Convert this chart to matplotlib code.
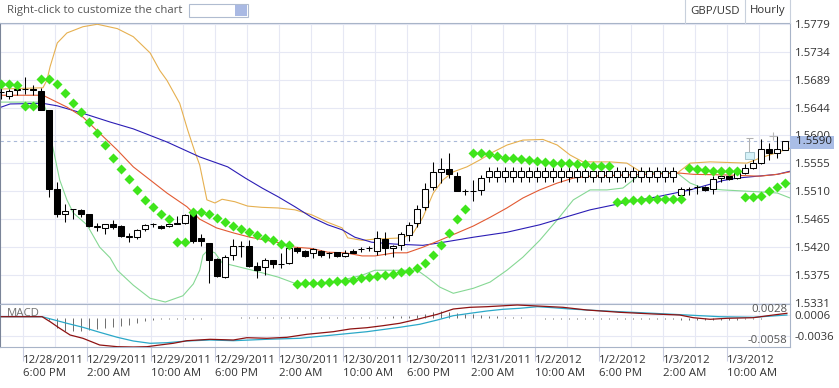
import numpy as np
import matplotlib.pyplot as plt
import matplotlib.transforms as mtransforms
from matplotlib.lines import Line2D
from matplotlib.patches import Rectangle

plt.rcParams['font.family'] = ['Open Sans', 'DejaVu Sans']

# hourly GBP/USD candles
opens = [1.5669, 1.5663, 1.5673, 1.5674, 1.5674, 1.5671, 1.5640, 1.5513, 1.5473, 1.5481,
         1.5480, 1.5473, 1.5453, 1.5451, 1.5458, 1.5454, 1.5437, 1.5436, 1.5449, 1.5457,
         1.5454, 1.5454, 1.5458, 1.5459, 1.5473, 1.5434, 1.5426, 1.5401, 1.5372, 1.5408,
         1.5422, 1.5422, 1.5390, 1.5388, 1.5399, 1.5393, 1.5394, 1.5419, 1.5414, 1.5410,
         1.5414, 1.5410, 1.5412, 1.5406, 1.5414, 1.5417, 1.5418, 1.5414, 1.5433, 1.5418,
         1.5423, 1.5440, 1.5459, 1.5484, 1.5516, 1.5540, 1.5545, 1.5534, 1.5510, 1.5510,
         1.5512, 1.5532, 1.5532, 1.5532, 1.5532, 1.5532, 1.5532, 1.5532, 1.5532, 1.5532,
         1.5532, 1.5532, 1.5532, 1.5532, 1.5532, 1.5532, 1.5532, 1.5532, 1.5532, 1.5532,
         1.5532, 1.5532, 1.5532, 1.5532, 1.5532, 1.5504, 1.5513, 1.5517, 1.5517, 1.5513,
         1.5531, 1.5534, 1.5531, 1.5539, 1.5547, 1.5556, 1.5577, 1.5572, 1.5576]
highs = [1.5676, 1.5674, 1.5679, 1.5693, 1.5680, 1.5676, 1.5641, 1.5525, 1.5490, 1.5482,
         1.5481, 1.5474, 1.5459, 1.5458, 1.5464, 1.5456, 1.5443, 1.5450, 1.5457, 1.5459,
         1.5456, 1.5464, 1.5470, 1.5474, 1.5474, 1.5442, 1.5427, 1.5402, 1.5407, 1.5433,
         1.5430, 1.5431, 1.5397, 1.5402, 1.5400, 1.5410, 1.5421, 1.5421, 1.5415, 1.5418,
         1.5415, 1.5413, 1.5413, 1.5415, 1.5417, 1.5420, 1.5422, 1.5446, 1.5444, 1.5423,
         1.5445, 1.5461, 1.5488, 1.5523, 1.5557, 1.5563, 1.5572, 1.5540, 1.5514, 1.5528,
         1.5536, 1.5548, 1.5548, 1.5548, 1.5548, 1.5548, 1.5548, 1.5548, 1.5548, 1.5548,
         1.5548, 1.5548, 1.5548, 1.5548, 1.5548, 1.5548, 1.5548, 1.5548, 1.5548, 1.5548,
         1.5548, 1.5548, 1.5548, 1.5548, 1.5548, 1.5517, 1.5517, 1.5520, 1.5518, 1.5534,
         1.5539, 1.5536, 1.5541, 1.5554, 1.5561, 1.5593, 1.5588, 1.5599, 1.5591]
lows = [1.5658, 1.5658, 1.5664, 1.5666, 1.5665, 1.5640, 1.5501, 1.5469, 1.5460, 1.5465,
        1.5469, 1.5452, 1.5446, 1.5442, 1.5450, 1.5437, 1.5429, 1.5433, 1.5446, 1.5453,
        1.5450, 1.5452, 1.5457, 1.5458, 1.5426, 1.5422, 1.5362, 1.5372, 1.5370, 1.5399,
        1.5405, 1.5389, 1.5370, 1.5375, 1.5386, 1.5387, 1.5393, 1.5411, 1.5405, 1.5402,
        1.5405, 1.5402, 1.5404, 1.5404, 1.5410, 1.5413, 1.5414, 1.5408, 1.5408, 1.5405,
        1.5415, 1.5430, 1.5453, 1.5480, 1.5512, 1.5523, 1.5531, 1.5510, 1.5504, 1.5494,
        1.5504, 1.5525, 1.5525, 1.5525, 1.5525, 1.5525, 1.5525, 1.5525, 1.5525, 1.5525,
        1.5525, 1.5525, 1.5525, 1.5525, 1.5525, 1.5525, 1.5525, 1.5525, 1.5525, 1.5525,
        1.5525, 1.5525, 1.5525, 1.5525, 1.5525, 1.5502, 1.5504, 1.5506, 1.5511, 1.5506,
        1.5525, 1.5528, 1.5529, 1.5537, 1.5545, 1.5554, 1.5560, 1.5563, 1.5576]
closes = [1.5670, 1.5671, 1.5673, 1.5674, 1.5673, 1.5641, 1.5513, 1.5474, 1.5478, 1.5481,
          1.5474, 1.5454, 1.5453, 1.5457, 1.5452, 1.5438, 1.5437, 1.5448, 1.5455, 1.5457,
          1.5451, 1.5458, 1.5458, 1.5472, 1.5430, 1.5430, 1.5400, 1.5373, 1.5405, 1.5422,
          1.5422, 1.5390, 1.5384, 1.5400, 1.5393, 1.5393, 1.5418, 1.5414, 1.5406, 1.5417,
          1.5408, 1.5410, 1.5406, 1.5410, 1.5411, 1.5417, 1.5418, 1.5434, 1.5419, 1.5422,
          1.5441, 1.5456, 1.5482, 1.5514, 1.5540, 1.5545, 1.5537, 1.5511, 1.5510, 1.5510,
          1.5531, 1.5542, 1.5542, 1.5542, 1.5542, 1.5542, 1.5542, 1.5542, 1.5542, 1.5542,
          1.5542, 1.5542, 1.5542, 1.5542, 1.5542, 1.5542, 1.5542, 1.5542, 1.5542, 1.5542,
          1.5542, 1.5542, 1.5542, 1.5542, 1.5542, 1.5513, 1.5513, 1.5517, 1.5512, 1.5529,
          1.5535, 1.5530, 1.5539, 1.5547, 1.5556, 1.5577, 1.5572, 1.5577, 1.5590]

# parabolic SAR, one per bar
sar = [1.5682, 1.5682, 1.5680, 1.5647, 1.5647, 1.5690, 1.5690, 1.5682, 1.5668, 1.5651,
       1.5637, 1.5621, 1.5604, 1.5584, 1.5564, 1.5546, 1.5529, 1.5512, 1.5496, 1.5485,
       1.5473, 1.5465, 1.5428, 1.5428, 1.5476, 1.5476, 1.5474, 1.5467, 1.5461, 1.5454,
       1.5449, 1.5444, 1.5440, 1.5435, 1.5431, 1.5425, 1.5423, 1.5361, 1.5362, 1.5362,
       1.5363, 1.5364, 1.5366, 1.5366, 1.5368, 1.5370, 1.5372, 1.5373, 1.5375, 1.5377,
       1.5380, 1.5382, 1.5386, 1.5394, 1.5407, 1.5423, 1.5443, 1.5465, 1.5481, 1.5572,
       1.5571, 1.5569, 1.5566, 1.5564, 1.5563, 1.5562, 1.5560, 1.5559, 1.5557, 1.5556,
       1.5556, 1.5555, 1.5553, 1.5553, 1.5551, 1.5551, 1.5551, 1.5493, 1.5494, 1.5495,
       1.5496, 1.5497, 1.5497, 1.5498, 1.5498, 1.5498, 1.5547, 1.5545, 1.5544, 1.5543,
       1.5543, 1.5543, 1.5543, 1.5500, 1.5501, 1.5502, 1.5511, 1.5516, 1.5523]

# bollinger upper band (bar, price)
upper_x = [0, 5.2, 5.7, 6.1, 7.0, 8.2, 10.2, 12.0, 14.5, 16.5, 18.6, 19.8, 20.7, 22.3, 23.3,
           24.2, 24.8, 25.7, 26.7, 27.6, 29.2, 30.8, 32.6, 34.6, 36.7, 38.8, 40.8, 42.6, 43.3,
           45.1, 46.7, 50.2, 51.5, 52.7, 54.0, 55.2, 56.5, 58.2, 59.8, 61.5, 63.2, 65.2, 67.7,
           69.5, 71.1, 72.7, 76.1, 78.2, 79.8, 82.0, 84.5, 86.1, 88.6, 93.2, 94.8, 96.5, 98.6]
upper = [1.5674, 1.5676, 1.5688, 1.5710, 1.5748, 1.5764, 1.5774, 1.5778, 1.5771, 1.5758,
         1.5732, 1.5704, 1.5688, 1.5651, 1.5608, 1.5573, 1.5552, 1.5496, 1.5491, 1.5497,
         1.5493, 1.5486, 1.5484, 1.5483, 1.5480, 1.5472, 1.5460, 1.5451, 1.5435, 1.5431,
         1.5433, 1.5435, 1.5443, 1.5468, 1.5507, 1.5528, 1.5541, 1.5549, 1.5560, 1.5573,
         1.5584, 1.5592, 1.5593, 1.5584, 1.5568, 1.5557, 1.5557, 1.5555, 1.5542, 1.5539,
         1.5539, 1.5555, 1.5557, 1.5555, 1.5563, 1.5570, 1.5579]
# middle band
mid_x = [0, 5.2, 8.2, 10.2, 12.3, 14.5, 16.5, 18.6, 20.7, 23.2, 24.8, 26.9, 29.0, 31.1, 33.2,
         34.8, 36.7, 38.8, 40.8, 43.0, 45.1, 46.7, 49.2, 50.7, 52.7, 54.8, 57.0, 59.0, 61.1,
         63.2, 65.2, 67.3, 69.5, 71.5, 73.6, 84.8, 86.5, 90.7, 94.8, 97.0, 98.6]
mid = [1.5664, 1.5664, 1.5645, 1.5629, 1.5603, 1.5576, 1.5549, 1.5528, 1.5507, 1.5485,
       1.5465, 1.5451, 1.5443, 1.5436, 1.5431, 1.5427, 1.5420, 1.5418, 1.5412, 1.5411,
       1.5406, 1.5406, 1.5411, 1.5411, 1.5420, 1.5431, 1.5443, 1.5454, 1.5468, 1.5483,
       1.5499, 1.5512, 1.5523, 1.5531, 1.5534, 1.5539, 1.5537, 1.5536, 1.5534, 1.5537, 1.5541]
# slow moving average
slow_x = [0, 1.1, 5.2, 7.0, 10.2, 13.6, 16.5, 20.7, 24.8, 28.3, 30.5, 32.6, 34.6, 36.7, 38.8,
          40.8, 42.6, 44.2, 46.3, 49.2, 52.7, 54.8, 59.0, 63.2, 67.3, 71.5, 73.6, 77.7, 82.0,
          86.1, 90.2, 92.0, 94.5, 97.0, 98.6]
slow = [1.5645, 1.5650, 1.5651, 1.5647, 1.5635, 1.5621, 1.5610, 1.5589, 1.5565, 1.5549,
        1.5531, 1.5515, 1.5501, 1.5485, 1.5468, 1.5456, 1.5448, 1.5436, 1.5428, 1.5425,
        1.5423, 1.5427, 1.5436, 1.5444, 1.5456, 1.5472, 1.5480, 1.5491, 1.5501, 1.5512,
        1.5527, 1.5531, 1.5534, 1.5537, 1.5542]
# bollinger lower band
lower_x = [0, 5.2, 6.1, 6.3, 7.3, 8.2, 9.0, 10.7, 12.3, 13.6, 14.5, 16.5, 18.6, 20.5, 22.7,
           24.0, 24.8, 25.2, 25.8, 26.7, 27.6, 29.2, 31.7, 34.6, 36.7, 40.1, 42.6, 45.1, 46.7,
           52.0, 53.2, 54.8, 56.5, 59.0, 61.1, 63.2, 65.2, 67.3, 69.5, 71.5, 73.6, 75.7, 77.7,
           79.0, 80.2, 84.5, 86.1, 87.7, 90.2, 94.5, 97.0, 98.6]
lower = [1.5653, 1.5653, 1.5624, 1.5589, 1.5528, 1.5496, 1.5475, 1.5456, 1.5420, 1.5403,
         1.5383, 1.5359, 1.5338, 1.5332, 1.5342, 1.5361, 1.5383, 1.5407, 1.5415, 1.5411,
         1.5395, 1.5390, 1.5382, 1.5372, 1.5362, 1.5361, 1.5367, 1.5375, 1.5383, 1.5383,
         1.5372, 1.5356, 1.5346, 1.5354, 1.5364, 1.5383, 1.5404, 1.5431, 1.5464, 1.5496,
         1.5512, 1.5512, 1.5515, 1.5528, 1.5541, 1.5539, 1.5523, 1.5515, 1.5512, 1.5509,
         1.5507, 1.5499]

# MACD panel
macd_x = [0, 5.1, 6.1, 7.3, 8.6, 10.2, 12.3, 14.5, 16.5, 18.2, 19.8, 21.5, 23.2, 26.1, 29.0,
          30.7, 33.2, 35.7, 38.2, 41.5, 43.6, 45.7, 47.7, 49.8, 52.3, 54.5, 56.5, 58.6, 60.7,
          64.5, 67.0, 70.2, 73.2, 77.3, 81.5, 84.8, 86.5, 88.6, 90.7, 94.0, 96.5, 98.2]
macd = [0.00026, 0.00026, -0.00074, -0.00206, -0.0034, -0.00406, -0.0054, -0.00574, -0.0058,
        -0.00574, -0.0054, -0.00506, -0.00454, -0.00426, -0.0044, -0.00394, -0.00406, -0.00386,
        -0.00326, -0.00274, -0.0022, -0.00194, -0.00154, -0.00106, -0.00014, 0.00074, 0.0018,
        0.00214, 0.00226, 0.0026, 0.0024, 0.00214, 0.0016, 0.00114, 0.0008, 0.0006, 0.00006,
        -0.00026, -0.00006, 0.00006, 0.0006, 0.00094]
signal_x = [0, 5.1, 8.2, 10.2, 12.3, 14.5, 16.5, 18.6, 20.7, 23.2, 26.1, 29.0, 33.2, 37.3,
            41.5, 45.7, 49.8, 52.3, 54.5, 56.5, 58.6, 60.7, 62.7, 64.8, 67.0, 69.0, 71.1,
            73.2, 77.3, 81.5, 85.7, 89.8, 94.0, 98.2]
signal = [0.00026, 0.00026, -0.00106, -0.00186, -0.00286, -0.00386, -0.0046, -0.00506,
          -0.00494, -0.0046, -0.0044, -0.00454, -0.00426, -0.00406, -0.0034, -0.00274,
          -0.00186, -0.00126, -0.0004, 0.00046, 0.00094, 0.0014, 0.00174, 0.00194, 0.00226,
          0.00206, 0.0018, 0.0016, 0.00126, 0.00094, 0.0006, 0.00026, 0.00014, 0.0006]
hist = [0, 0, 0, 0, 0, 0, -0.0004, -0.0020, -0.0026, -0.0026,
        -0.0025, -0.0024, -0.0022, -0.0020, -0.0018, -0.0016, -0.0013, -0.0010, -0.0006, -0.0003,
        -0.0002, -0.0002, -0.0001, -0.0001, -0.0001, -0.0001, 0, 0, 0, 0.0001,
        0.0002, 0.0002, 0.0002, 0.0002, 0.0002, 0.0003, 0.0003, 0.0003, 0.0003, 0.0003,
        0.0003, 0.0003, 0.0003, 0.0003, 0.0003, 0.0003, 0.0003, 0.0003, 0.0003, 0.0004,
        0.0004, 0.0005, 0.0006, 0.0008, 0.0012, 0.0014, 0.0013, 0.0011, 0.0009, 0.0008,
        0.0006, 0.0005, 0.0004, 0.0003, 0.0002, 0.0002, 0.0001, 0.0001, -0.0001, -0.0001,
        -0.0001, -0.0001, -0.0001, -0.0001, -0.0001, -0.0001, -0.0001, -0.0001, -0.0001, -0.0002,
        -0.0002, -0.0002, -0.0002, -0.0002, -0.0002, -0.0004, -0.0004, -0.0004, -0.0004, -0.0004,
        -0.0004, -0.0004, -0.0004, -0.0002, -0.0002, -0.0002, 0.0001, 0.0001, 0.0001]

# hover ghost candle and cursor mark
ghost_bar = [93.5]
ghost_body = [1.5561, 1.5573]
ghost_top = [1.5595]
cursor_bar = [96.4]
cursor_price = [1.5598]

price_ticks = [1.5331, 1.5375, 1.5420, 1.5465, 1.5510, 1.5555, 1.5600, 1.5644, 1.5689, 1.5734, 1.5779]
macd_ticks = [0.0006, -0.0036]
time_labels = ['12/28/2011\n6:00 PM', '12/29/2011\n2:00 AM', '12/29/2011\n10:00 AM',
               '12/29/2011\n6:00 PM', '12/30/2011\n2:00 AM', '12/30/2011\n10:00 AM',
               '12/30/2011\n6:00 PM', '12/31/2011\n2:00 AM', '1/2/2012\n10:00 AM',
               '1/2/2012\n6:00 PM', '1/3/2012\n2:00 AM', '1/3/2012\n10:00 AM']

W, H = 839, 388
FS = 8.2
fig = plt.figure(figsize=(W / 100, H / 100), dpi=100)


def box(l, t, r, b):
    return [l / W, 1 - b / H, (r - l) / W, (b - t) / H]


ax = fig.add_axes(box(0, 23, 790, 304))
axm = fig.add_axes(box(0, 304, 790, 347))

border = '#A8B4C8'
gridc = '#E6E8F4'
xlim = (-0.1625, 98.5875)
label_pos = np.arange(len(time_labels)) * 8 + 2.675

# ---- price panel
ax.set_xlim(xlim)
ax.set_ylim(1.53288, 1.57800)
ax.set_xticks(np.arange(2.675, 98.6, 4))
ax.tick_params(axis='x', length=0, labelbottom=False)
ax.set_yticks(price_ticks)
ax.set_yticklabels([f'{v:.4f}' for v in price_ticks])
ax.yaxis.tick_right()
ax.tick_params(axis='y', length=0, pad=3.5, labelsize=FS, labelcolor='#333333')
ax.grid(True, color=gridc, lw=0.8)
ax.set_axisbelow(True)
for s in ['top', 'right']:
    ax.spines[s].set_color(border)
ax.spines['left'].set_color('#7A8498')
ax.spines['bottom'].set_visible(False)

bars = np.arange(len(opens))
o = np.array(opens)
c = np.array(closes)

ax.plot(upper_x, upper, color='#E6B050', lw=0.8, zorder=2)
ax.plot(lower_x, lower, color='#86D894', lw=0.8, zorder=2)
ax.plot(slow_x, slow, color='#2B1DB5', lw=0.8, zorder=2)
ax.plot(mid_x, mid, color='#E25A32', lw=0.8, zorder=2)
ax.axhline(closes[-1], color='#A8B8D8', lw=0.8, ls=(0, (3, 3)), zorder=1)

ax.vlines(bars, lows, highs, color='black', lw=0.75, zorder=4)
ax.bar(bars, np.maximum(np.abs(c - o), 0.00003), bottom=np.minimum(o, c), width=0.75,
       color=np.where(c >= o, 'white', 'black'), edgecolor='black', linewidth=0.75, zorder=5)

# ghost candle
ax.vlines(ghost_bar, ghost_body[1], ghost_top, color='#B0B0B0', lw=0.75, zorder=4)
ax.hlines(ghost_top, np.array(ghost_bar) - 0.4, np.array(ghost_bar) + 0.4, color='#B0B0B0', lw=0.75, zorder=4)
ax.bar(ghost_bar, ghost_body[1] - ghost_body[0], bottom=ghost_body[0], width=1.1,
       color='#D6F2F8', edgecolor='#A6C6CE', linewidth=0.75, zorder=5)
ax.plot(cursor_bar, cursor_price, '+', ms=6, mew=0.8, color='#B8B8B8', zorder=5)

ax.plot(bars, sar, 'D', ms=5, color='#3FE51B', mec='none', zorder=6)

# current price marker on the axis
blend = mtransforms.blended_transform_factory(ax.transAxes, ax.transData)
ax.add_patch(Rectangle((1.0, closes[-1] - 0.00124), 44 / 790, 0.00209, transform=blend,
                       fc='#A9BDE6', ec='none', clip_on=False, zorder=10))
ax.text(1.0, closes[-1], f'  {closes[-1]:.4f}', transform=blend, va='center', ha='left',
        fontsize=FS, color='#222222', zorder=11, clip_on=False)

# ---- MACD panel
axm.set_xlim(xlim)
axm.set_ylim(-0.0058, 0.0028)
axm.set_xticks(label_pos)
axm.set_xticks(label_pos + 4, minor=True)
axm.set_xticklabels(time_labels, ha='left', fontsize=FS, color='#333333', linespacing=1.35)
axm.tick_params(axis='x', which='major', length=10, color='#C8CCE0', pad=-4.5)
axm.tick_params(axis='x', which='minor', length=0)
axm.set_yticks(macd_ticks)
axm.set_yticklabels([f'{v:.4f}' for v in macd_ticks])
axm.yaxis.tick_right()
axm.tick_params(axis='y', length=0, pad=3.5, labelsize=FS, labelcolor='#333333')
axm.grid(True, which='both', color=gridc, lw=0.8)
axm.set_axisbelow(True)
for s in axm.spines.values():
    s.set_color(border)
axm.spines['left'].set_color('#7A8498')

axm.vlines(bars, 0, hist, color='#555555', lw=0.6, zorder=2)
axm.plot(signal_x, signal, color='#2AA8C8', lw=0.9, zorder=3)
axm.plot(macd_x, macd, color='#8E1212', lw=0.9, zorder=3)
axm.text(0.009, 0.66, 'MACD', transform=axm.transAxes, fontsize=FS, color='#707070', va='bottom')
axm.text(0.997, 0.99, f'{axm.get_ylim()[1]:.4f}', transform=axm.transAxes, ha='right', va='top',
         fontsize=FS, color='#555555')
axm.text(0.997, 0.02, f'{axm.get_ylim()[0]:.4f}', transform=axm.transAxes, ha='right', va='bottom',
         fontsize=FS, color='#555555')

# ---- header strip
fig.text(7 / W, 1 - 11 / H, 'Right-click to customize the chart', va='center', fontsize=FS, color='#555555')
fig.add_artist(Rectangle((189 / W, 1 - 17 / H), 59 / W, 13 / H, transform=fig.transFigure,
                         fc='white', ec='#B0BCD0', lw=0.8))
fig.add_artist(Rectangle((235 / W, 1 - 16 / H), 12 / W, 11 / H, transform=fig.transFigure,
                         fc='#A9B9E3', ec='none'))
fig.text(690 / W, 1 - 11 / H, 'GBP/USD', va='center', fontsize=FS, color='#333333')
fig.text(750 / W, 1 - 11 / H, 'Hourly', va='center', fontsize=FS, color='#333333')
for xp in [685, 745, 790]:
    fig.add_artist(Line2D([xp / W, xp / W], [1, 1 - 23 / H], transform=fig.transFigure,
                          color='#C8D0DC', lw=0.8))

fig.savefig('out.png', dpi=100)
